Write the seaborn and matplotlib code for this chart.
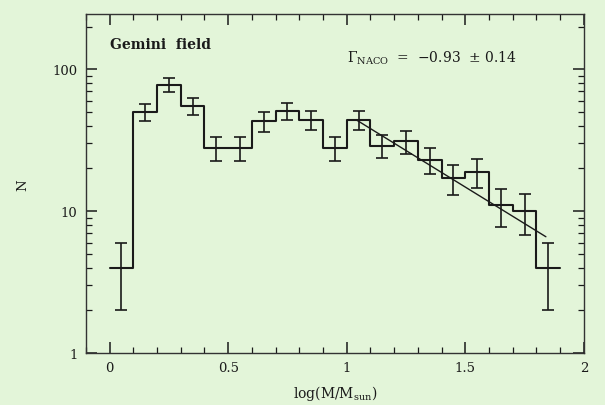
import numpy as np
import pandas as pd
import matplotlib
matplotlib.use("Agg")
import matplotlib.pyplot as plt
from matplotlib.ticker import FixedLocator, NullFormatter, LogLocator
import seaborn as sns

# Mass function of the Gemini field: bin centres in log(M/Msun), counts, Poisson errors
bin_centers = [0.05, 0.15, 0.25, 0.35, 0.45, 0.55, 0.65, 0.75, 0.85, 0.95,
               1.05, 1.15, 1.25, 1.35, 1.45, 1.55, 1.65, 1.75, 1.85]
counts = [4, 50, 78, 55, 28, 28, 43, 51, 44, 28,
          44, 29, 31, 23, 17, 19, 11, 10, 4]
count_err = [2, 7.1, 8.8, 7.4, 5.3, 5.3, 6.6, 7.1, 6.6, 5.3,
             6.6, 5.4, 5.6, 4.8, 4.1, 4.4, 3.3, 3.2, 2]
bin_edges = [0.0, 0.1, 0.2, 0.3, 0.4, 0.5, 0.6, 0.7, 0.8, 0.9, 1.0,
             1.1, 1.2, 1.3, 1.4, 1.5, 1.6, 1.7, 1.8, 1.9]

# Power-law fit over the high-mass end
fit_x = [1.04, 1.84]
fit_n = [44.0, 6.6]

bg = "#e3f5d9"
ink = "#1a1a1a"

sns.set_theme(style="ticks")
plt.rcParams["font.family"] = ["DejaVu Serif"]
plt.rcParams["mathtext.fontset"] = "dejavuserif"

fig = plt.figure(figsize=(6.05, 4.06), dpi=100, facecolor=bg)
ax = fig.add_axes([0.142, 0.128, 0.823, 0.835], facecolor=bg)

df = pd.DataFrame({"logm": bin_centers, "n": counts})
sns.histplot(data=df, x="logm", weights="n", bins=bin_edges, element="step",
             fill=False, color=ink, linewidth=1.5, ax=ax)

ax.errorbar(bin_centers, counts, yerr=count_err, fmt="none", ecolor=ink,
            elinewidth=1.2, capsize=4, capthick=1.2)

fit_df = pd.DataFrame({"x": fit_x, "y": fit_n})
sns.lineplot(data=fit_df, x="x", y="y", color=ink, linewidth=1.0, ax=ax)

ax.set_yscale("log")
ax.set_xlim(-0.1, 2.0)
ax.set_ylim(1, 245)

ax.xaxis.set_major_locator(FixedLocator([0, 0.5, 1, 1.5, 2]))
ax.xaxis.set_minor_locator(FixedLocator(np.round(np.arange(-0.1, 2.0, 0.1), 2)))
ax.set_xticklabels(["0", "0.5", "1", "1.5", "2"])
ax.yaxis.set_major_locator(FixedLocator([1, 10, 100]))
ax.yaxis.set_minor_locator(LogLocator(base=10, subs=np.arange(2, 10)))
ax.yaxis.set_minor_formatter(NullFormatter())
ax.set_yticklabels(["1", "10", "100"])

ax.tick_params(which="both", direction="in", top=True, right=True,
               colors=ink, labelsize=9.5, pad=6)
ax.tick_params(which="major", length=8, width=1.1)
ax.tick_params(which="minor", length=4, width=0.9)
for s in ax.spines.values():
    s.set_color("#333333")
    s.set_linewidth(1.0)

ax.set_xlabel(r"log(M/M$_{\rm sun}$)", fontsize=10, color=ink, labelpad=6)
ax.set_ylabel("")
fig.text(0.038, 0.545, "N", rotation=90, fontsize=9.5, color=ink,
         ha="center", va="center")

ax.text(0.0, 150, "Gemini  field", fontsize=10, color=ink,
        fontweight="bold", ha="left", va="center")
ax.text(1.0, 121, r"$\Gamma_{\rm NACO}$  =  $-$0.93  $\pm$ 0.14", fontsize=10,
        color=ink, ha="left", va="center")

fig.savefig("out.png", dpi=100, facecolor=bg)
